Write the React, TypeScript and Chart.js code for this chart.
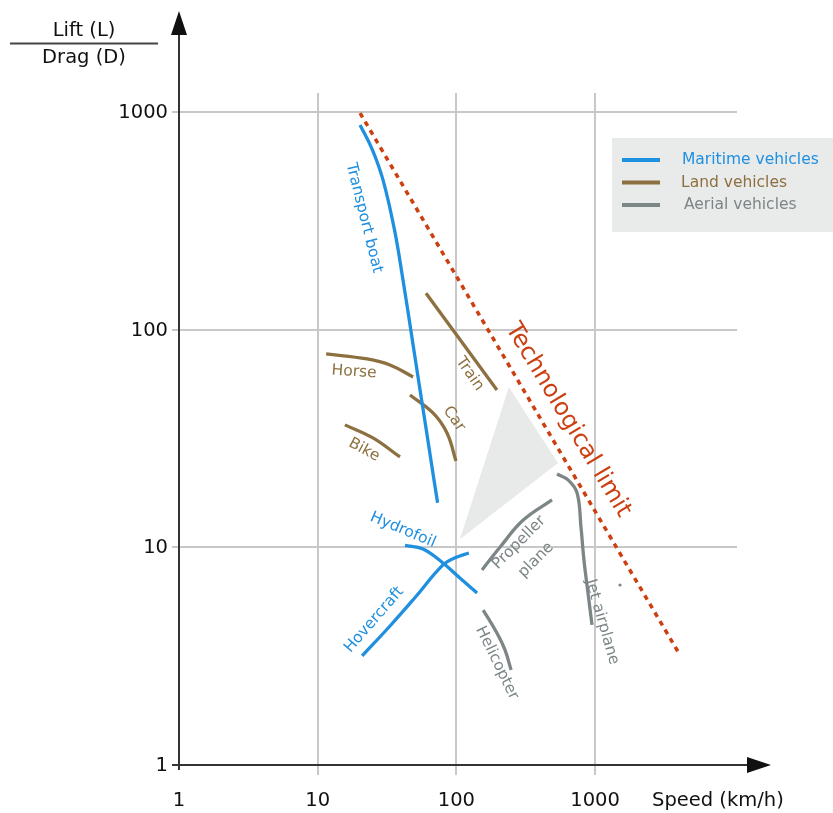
import React, { useEffect, useRef } from 'react';
import { Chart, registerables } from 'chart.js';
Chart.register(...registerables);

// Axis ranges (log scales)
const X_MIN = 1;
const X_MAX = 10547;
const Y_MIN = 1;
const Y_MAX = 1221;

const xTicks = [1, 10, 100, 1000];
const yTicks = [1, 10, 100, 1000];
const xGridValues = [10, 100, 1000];
const yGridValues = [10, 100, 1000];
const xTitle = 'Speed (km/h)';
const yTitleTop = 'Lift (L)';
const yTitleBottom = 'Drag (D)';

// Curves [speed km/h, L/D]
const transportBoat = [[20.2, 871], [24.84, 668], [29.57, 487], [35.79, 287], [41.21, 169], [46.91, 99.5], [53.3, 58.7], [60.67, 34.6], [68.95, 20.4], [73.2, 16.0]];
const hydrofoil = [[42.6, 10.2], [57.4, 9.82], [80.0, 8.47], [106, 7.23], [141, 6.17]];
const hovercraft = [[20.9, 3.17], [33.2, 4.35], [50.0, 5.85], [80.0, 8.3], [98.0, 8.95], [123, 9.42]];
const train = [[60.4, 147], [196, 52.8]];
const horse = [[11.5, 77.3], [22.7, 73.3], [33.2, 68.8], [48.7, 60.6]];
const car = [[46.3, 50.1], [67.8, 41.4], [85.6, 33.5], [99.3, 24.9]];
const bike = [[15.7, 36.5], [25.0, 31.8], [39.2, 26.0]];
const propellerPlane = [[153, 7.87], [206, 10.0], [302, 13.3], [489, 16.5]];
const jetAirplane = [[531, 21.7], [638, 20.4], [741, 17.8], [791, 12.4], [831, 8.74], [889, 6.17], [950, 4.4]];
const helicopter = [[156, 5.15], [196, 4.04], [224, 3.38], [248, 2.73]];
const techLimit = [[20.2, 988], [4093, 3.2]];
const strayDot = [[1513, 6.71]];
const grayTriangle = [[106, 10.9], [239, 54.5], [540, 24.4], [106, 10.9]];

const legendLabels = ['Maritime vehicles', 'Land vehicles', 'Aerial vehicles'];

const BLUE = '#1f8fe0';
const BROWN = '#8d7040';
const GRAY = '#7c8687';
const RED = '#cc3f10';

// Curve annotations: [text, speed, L/D, angle(deg), color, size]
const curveLabels: [string, number, number, number, string, number][] = [
  ['Transport boat', 21.6, 325.6, 76, BLUE, 15.5],
  ['Horse', 18.3, 63.9, 4, BROWN, 15.5],
  ['Bike', 21.6, 28.0, 28, BROWN, 15.5],
  ['Car', 96.1, 38.9, 55, BROWN, 15.5],
  ['Train', 125, 62.5, 55, BROWN, 15.5],
  ['Technological limit', 638, 38.4, 59, RED, 24],
  ['Hydrofoil', 41.2, 12.0, 23, BLUE, 15.5],
  ['Hovercraft', 25.5, 4.64, -49, BLUE, 15.5],
  ['Propeller', 283, 10.5, -45, GRAY, 15.5],
  ['plane', 375, 8.74, -45, GRAY, 15.5],
  ['Jet airplane', 1121, 4.54, 74, GRAY, 15.5],
  ['Helicopter', 196, 2.94, 64, GRAY, 15.5],
];

const toXY = (arr: number[][]) => arr.map(([x, y]) => ({ x, y }));

const AXIS_FONT = '19.5px "DejaVu Sans"';
const LABEL_FAMILY = '"DejaVu Sans"';

const decorPlugin = {
  id: 'decor',
  beforeDatasetsDraw(chart: any) {
    const { ctx, chartArea, scales } = chart;
    const xs = scales.x, ys = scales.y;
    ctx.save();
    ctx.strokeStyle = '#c8c8c8';
    ctx.lineWidth = 2;
    xGridValues.forEach((v) => {
      const px = Math.round(xs.getPixelForValue(v));
      ctx.beginPath();
      ctx.moveTo(px, chartArea.top);
      ctx.lineTo(px, chartArea.bottom + 10);
      ctx.stroke();
    });
    yGridValues.forEach((v) => {
      const py = Math.round(ys.getPixelForValue(v));
      ctx.beginPath();
      ctx.moveTo(chartArea.left - 7, py);
      ctx.lineTo(chartArea.right, py);
      ctx.stroke();
    });
    ctx.restore();
  },
  afterDatasetsDraw(chart: any) {
    const { ctx, scales } = chart;
    const xs = scales.x, ys = scales.y;
    const x0 = xs.getPixelForValue(X_MIN);
    const y0 = ys.getPixelForValue(Y_MIN);
    ctx.save();
    // axes
    ctx.strokeStyle = '#333333';
    ctx.fillStyle = '#111111';
    ctx.lineWidth = 2;
    ctx.beginPath();
    ctx.moveTo(x0 - 7, y0);
    ctx.lineTo(750, y0);
    ctx.stroke();
    ctx.beginPath();
    ctx.moveTo(x0, y0 + 5);
    ctx.lineTo(x0, 32);
    ctx.stroke();
    // arrows
    ctx.beginPath();
    ctx.moveTo(771, y0);
    ctx.lineTo(747, y0 - 8);
    ctx.lineTo(747, y0 + 8);
    ctx.closePath();
    ctx.fill();
    ctx.beginPath();
    ctx.moveTo(x0, 11);
    ctx.lineTo(x0 - 8, 35);
    ctx.lineTo(x0 + 8, 35);
    ctx.closePath();
    ctx.fill();
    // tick labels
    ctx.font = AXIS_FONT;
    ctx.fillStyle = '#111111';
    ctx.textBaseline = 'middle';
    ctx.textAlign = 'right';
    yTicks.forEach((v) => {
      ctx.fillText(String(v), x0 - 11, ys.getPixelForValue(v) + 1);
    });
    ctx.textAlign = 'center';
    xTicks.forEach((v) => {
      ctx.fillText(String(v), xs.getPixelForValue(v), y0 + 36);
    });
    // axis titles
    ctx.textAlign = 'left';
    ctx.fillText(xTitle, 652, y0 + 36);
    ctx.textAlign = 'center';
    ctx.fillText(yTitleTop, 84, 31);
    ctx.fillText(yTitleBottom, 84, 58);
    ctx.strokeStyle = '#444444';
    ctx.beginPath();
    ctx.moveTo(10, 43.5);
    ctx.lineTo(158, 43.5);
    ctx.stroke();
    // curve labels
    curveLabels.forEach(([text, vx, vy, ang, color, size]) => {
      ctx.save();
      ctx.translate(xs.getPixelForValue(vx), ys.getPixelForValue(vy));
      ctx.rotate((ang * Math.PI) / 180);
      ctx.font = `${size}px ${LABEL_FAMILY}`;
      ctx.fillStyle = color;
      ctx.textAlign = 'center';
      ctx.textBaseline = 'middle';
      ctx.fillText(text, 0, 0);
      ctx.restore();
    });
    // legend
    ctx.fillStyle = '#e9ebea';
    ctx.fillRect(612, 138, 221, 94);
    const colors = [BLUE, BROWN, GRAY];
    const tx = [682, 681, 684];
    legendLabels.forEach((lab, i) => {
      const ly = 160 + i * 22.5;
      ctx.strokeStyle = colors[i];
      ctx.lineWidth = 4;
      ctx.beginPath();
      ctx.moveTo(622, ly);
      ctx.lineTo(660, ly);
      ctx.stroke();
      ctx.fillStyle = colors[i];
      ctx.font = `15.5px ${LABEL_FAMILY}`;
      ctx.textAlign = 'left';
      ctx.textBaseline = 'middle';
      ctx.fillText(lab, tx[i], ly);
    });
    ctx.restore();
  },
};

function line(data: number[][], color: string, extra: any = {}) {
  return {
    data: toXY(data),
    showLine: true,
    borderColor: color,
    backgroundColor: color,
    borderWidth: 3.3,
    pointRadius: 0,
    tension: 0.4,
    fill: false,
    clip: false,
    ...extra,
  };
}

export default function App() {
  const ref = useRef<HTMLCanvasElement | null>(null);
  useEffect(() => {
    document.body.style.margin = '0';
    if (!ref.current) return;
    const chart = new Chart(ref.current, {
      type: 'scatter',
      data: {
        datasets: [
          line(techLimit, RED, { borderDash: [5, 5], borderWidth: 3.5, tension: 0, order: 1 }),
          line(transportBoat, BLUE, { order: 2 }),
          line(hydrofoil, BLUE, { order: 2 }),
          line(hovercraft, BLUE, { order: 2 }),
          line(train, BROWN, { order: 2, tension: 0 }),
          line(horse, BROWN, { order: 2 }),
          line(car, BROWN, { order: 2 }),
          line(bike, BROWN, { order: 2 }),
          line(propellerPlane, GRAY, { order: 2 }),
          line(jetAirplane, GRAY, { order: 2 }),
          line(helicopter, GRAY, { order: 2 }),
          { data: toXY(strayDot), showLine: false, pointRadius: 1.6, backgroundColor: GRAY, borderWidth: 0, order: 2 },
          {
            data: toXY(grayTriangle),
            showLine: true,
            borderWidth: 0,
            borderColor: 'rgba(0,0,0,0)',
            backgroundColor: '#e8e9e9',
            pointRadius: 0,
            tension: 0,
            fill: 'shape',
            order: 10,
          },
        ],
      },
      options: {
        animation: false,
        responsive: true,
        maintainAspectRatio: false,
        layout: { padding: { left: 179, right: 96, top: 93, bottom: 48 } },
        plugins: { legend: { display: false }, tooltip: { enabled: false } },
        scales: {
          x: { type: 'logarithmic', min: X_MIN, max: X_MAX, display: false },
          y: { type: 'logarithmic', min: Y_MIN, max: Y_MAX, display: false },
        },
      },
      plugins: [decorPlugin],
    } as any);
    return () => chart.destroy();
  }, []);
  return (
    <div style={{ width: 833, height: 813, position: 'relative' }}>
      <canvas ref={ref} />
    </div>
  );
}
